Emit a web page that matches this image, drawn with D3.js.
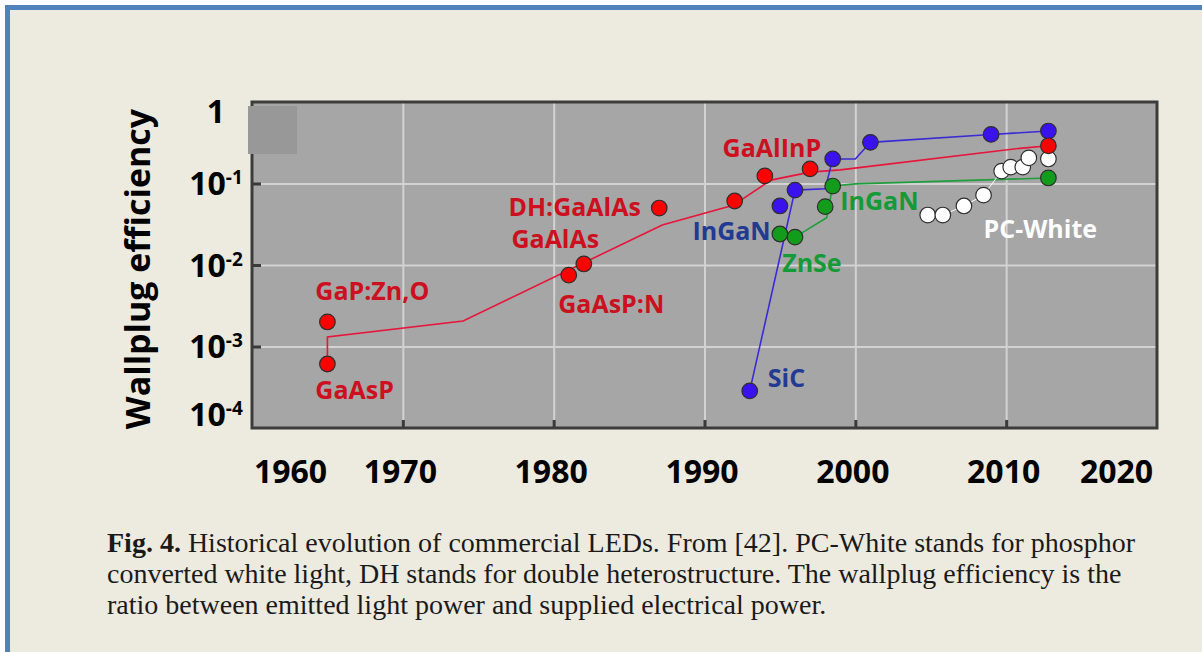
<!DOCTYPE html>
<html>
<head>
<meta charset="utf-8">
<script src="https://cdn.jsdelivr.net/npm/d3@7"></script>
<style>
  body { margin: 0; background: #ffffff; }
  svg { display: block; }
  .grid line { stroke: #d2d2d2; stroke-width: 2; }
  .grid path { display: none; }
  .ticks line { stroke: #3a3a3a; stroke-width: 3; }
  .ticks path { display: none; }
  .lbl path, .lbl line { display: none; }
  .lbl text { font-family: "Open Sans", sans-serif; font-weight: bold; fill: #000; }
  .note { font-family: "Open Sans", sans-serif; font-weight: bold; font-size: 25px; }
  .caption { font-family: "Liberation Serif", serif; font-size: 28px; fill: #1a1a1a; }
</style>
</head>
<body>
<svg id="chart" width="1202" height="652"></svg>
<script>
// axis ticks
var xTicks = [1960, 1970, 1980, 1990, 2000, 2010, 2020];
var yTicks = [1e-4, 1e-3, 1e-2, 1e-1, 1];
var yTickBase = ["10", "10", "10", "10", "1"];
var yTickExp = ["-4", "-3", "-2", "-1", ""];

// red: GaAsP ... GaAlInP
var redYears = [1965.0, 1965.0, 1981.0, 1982.0, 1987.0, 1992.0, 1994.0, 1997.0, 2012.8];
var redValues = [6.1e-4, 2.0e-3, 7.5e-3, 1.03e-2, 0.050, 0.061, 0.124, 0.151, 0.29];
var redLineYears = [1965.0, 1965.0, 1974.0, 1987.2, 1991.9, 1994.4, 1997.0, 1999.0, 2010.9, 2012.8];
var redLineValues = [6.1e-4, 1.31e-3, 2.06e-3, 0.031, 0.054, 0.11, 0.138, 0.147, 0.27, 0.29];

// blue: SiC, InGaN
var blueYears = [1993.0, 1995.0, 1996.0, 1998.5, 2001.0, 2009.0, 2012.8];
var blueValues = [2.85e-4, 0.053, 0.083, 0.20, 0.32, 0.40, 0.44];
var blueLineYears = [1993.0, 1996.0, 1998.0, 1998.5, 2000.0, 2001.0, 2009.0, 2012.8];
var blueLineValues = [2.85e-4, 0.083, 0.086, 0.20, 0.20, 0.32, 0.40, 0.44];

// green: ZnSe, InGaN
var greenYears = [1995.0, 1996.0, 1998.0, 1998.5, 2012.8];
var greenValues = [0.024, 0.022, 0.052, 0.093, 0.117];
var greenLineYears = [1996.0, 1998.1, 1998.5, 2000.0, 2012.8];
var greenLineValues = [0.022, 0.038, 0.093, 0.099, 0.117];

// white: PC-White
var whiteYears = [2004.8, 2005.8, 2007.2, 2008.5, 2009.7, 2010.3, 2011.1, 2011.5, 2012.8];
var whiteValues = [0.041, 0.041, 0.053, 0.072, 0.142, 0.159, 0.159, 0.206, 0.20];

// annotations (left edge year, baseline value)
var noteTexts = ["GaP:Zn,O", "GaAsP", "GaAlAs", "DH:GaAlAs", "GaAsP:N", "GaAlInP", "InGaN", "SiC", "ZnSe", "InGaN", "PC-White"];
var noteYears = [1964.2, 1964.2, 1977.2, 1977.0, 1980.3, 1991.2, 1989.2, 1994.2, 1995.15, 1999.0, 2008.5];
var noteValues = [3.72e-3, 2.27e-4, 0.0162, 0.0399, 2.58e-3, 0.211, 0.0203, 3.19e-4, 8.2e-3, 0.0473, 0.0214];
var noteColors = ["#cc1020", "#cc1020", "#cc1020", "#cc1020", "#cc1020", "#cc1020", "#223a92", "#223a92", "#149a36", "#149a36", "#ffffff"];

var captionLines = [
	" Historical evolution of commercial LEDs. From [42]. PC-White stands for phosphor",
	"converted white light, DH stands for double heterostructure. The wallplug efficiency is the",
	"ratio between emitted light power and supplied electrical power."
];

function zip(xs, ys) {
	return xs.map(function (x, i) { return { x: x, y: ys[i] }; });
}

function drawChart() {
	var svg = d3.select("#chart"),
		plot = { left: 252, right: 1157, top: 102, bottom: 428 };

	// frame
	svg.append("rect")
		.attr("x", 7.5).attr("y", 7.5)
		.attr("width", 1300).attr("height", 800)
		.attr("fill", "#edeae0")
		.attr("stroke", "#4f81bd")
		.attr("stroke-width", 5);

	var xRange = d3.scaleLinear().domain([1960, 2020]).range([plot.left, plot.right]),
		yRange = d3.scaleLog().domain([1e-4, 1]).range([plot.bottom, plot.top]);

	svg.append("rect")
		.attr("x", plot.left).attr("y", plot.top)
		.attr("width", plot.right - plot.left)
		.attr("height", plot.bottom - plot.top)
		.attr("fill", "#a6a6a6");

	// grid
	svg.append("g")
		.attr("class", "grid")
		.attr("transform", "translate(0," + plot.bottom + ")")
		.call(d3.axisBottom(xRange)
			.tickValues(xTicks.slice(1, -1))
			.tickSize(-(plot.bottom - plot.top))
			.tickFormat(""));

	svg.append("g")
		.attr("class", "grid")
		.attr("transform", "translate(" + plot.left + ",0)")
		.call(d3.axisLeft(yRange)
			.tickValues(yTicks.slice(1, -1))
			.tickSize(-(plot.right - plot.left))
			.tickFormat(""));

	// small inside ticks
	svg.append("g")
		.attr("class", "ticks")
		.attr("transform", "translate(0," + plot.bottom + ")")
		.call(d3.axisBottom(xRange).tickValues(xTicks.slice(1, -1)).tickSize(-8).tickFormat(""));

	svg.append("g")
		.attr("class", "ticks")
		.attr("transform", "translate(" + plot.left + ",0)")
		.call(d3.axisLeft(yRange).tickValues(yTicks.slice(1, -1)).tickSize(-9).tickFormat(""));

	svg.append("rect")
		.attr("x", plot.left).attr("y", plot.top)
		.attr("width", plot.right - plot.left)
		.attr("height", plot.bottom - plot.top)
		.attr("fill", "none")
		.attr("stroke", "#3c3c3c")
		.attr("stroke-width", 3);

	// grey patch in the corner
	svg.append("rect")
		.attr("x", plot.left - 4).attr("y", plot.top + 4)
		.attr("width", 49).attr("height", 48)
		.attr("fill", "#989898");

	// x labels
	var xLab = svg.append("g")
		.attr("class", "lbl")
		.attr("transform", "translate(0," + plot.bottom + ")")
		.call(d3.axisBottom(xRange).tickValues(xTicks).tickSize(0).tickFormat(d3.format("d")));
	xLab.selectAll("text")
		.attr("y", 55).attr("dy", 0)
		.style("font-size", "32px")
		.attr("dx", function (d, i) {
			if (i === 0) return 38;
			if (i === xTicks.length - 1) return -41;
			return -3;
		});

	// y labels
	var yLab = svg.append("g")
		.attr("class", "lbl")
		.attr("transform", "translate(" + plot.left + ",0)")
		.call(d3.axisLeft(yRange).tickValues(yTicks).tickSize(0).tickFormat(""));
	yLab.selectAll("text")
		.attr("x", -36)
		.attr("dy", 0)
		.attr("text-anchor", "middle")
		.style("font-size", "32px")
		.attr("y", function (d, i) {
			if (i === 0) return -3;
			if (i === yTicks.length - 1) return 20;
			return 11;
		})
		.each(function (d, i) {
			var t = d3.select(this);
			t.append("tspan").text(yTickBase[i]);
			if (yTickExp[i]) {
				t.append("tspan")
					.attr("dy", -11)
					.style("font-size", "19px")
					.text(yTickExp[i]);
			}
		});

	svg.append("text")
		.attr("class", "lbl")
		.attr("transform", "translate(150,269) rotate(-90)")
		.attr("text-anchor", "middle")
		.style("font-family", "'Open Sans', sans-serif")
		.style("font-weight", "bold")
		.style("font-size", "34px")
		.text("Wallplug efficiency");

	// lines
	var lineFunc = d3.line()
		.x(function (d) { return xRange(d.x); })
		.y(function (d) { return yRange(d.y); });

	var lines = [
		{ data: zip(redLineYears, redLineValues), color: "#e8143a", w: 1.6 },
		{ data: zip(blueLineYears, blueLineValues), color: "#3b2bd6", w: 1.6 },
		{ data: zip(greenLineYears, greenLineValues), color: "#1f9e3c", w: 1.6 },
		{ data: zip(whiteYears.slice(0, -1), whiteValues.slice(0, -1)), color: "#ffffff", w: 1 }
	];
	lines.forEach(function (l) {
		svg.append("path")
			.attr("d", lineFunc(l.data))
			.attr("fill", "none")
			.attr("stroke", l.color)
			.attr("stroke-width", l.w);
	});

	// markers
	var sets = [
		{ data: zip(whiteYears, whiteValues), color: "#ffffff" },
		{ data: zip(greenYears, greenValues), color: "#139c1c" },
		{ data: zip(blueYears, blueValues), color: "#3a12ee" },
		{ data: zip(redYears, redValues), color: "#ff0000" }
	];
	sets.forEach(function (s) {
		svg.append("g").selectAll("circle")
			.data(s.data)
			.enter().append("circle")
			.attr("cx", function (d) { return xRange(d.x); })
			.attr("cy", function (d) { return yRange(d.y); })
			.attr("r", 7.8)
			.attr("fill", s.color)
			.attr("stroke", "#2e2e2e")
			.attr("stroke-width", 1.2);
	});

	// annotations
	svg.append("g").selectAll("text")
		.data(noteTexts)
		.enter().append("text")
		.attr("class", "note")
		.attr("x", function (d, i) { return xRange(noteYears[i]); })
		.attr("y", function (d, i) { return yRange(noteValues[i]); })
		.attr("fill", function (d, i) { return noteColors[i]; })
		.text(function (d) { return d; });

	// caption
	var cap = svg.append("text")
		.attr("class", "caption")
		.attr("x", 107)
		.attr("y", 552);
	cap.append("tspan").style("font-weight", "bold").text("Fig. 4.");
	cap.append("tspan").text(captionLines[0]);
	captionLines.slice(1).forEach(function (line, i) {
		svg.append("text")
			.attr("class", "caption")
			.attr("x", 107)
			.attr("y", 552 + 31 * (i + 1))
			.text(line);
	});
}

drawChart();
</script>
</body>
</html>
